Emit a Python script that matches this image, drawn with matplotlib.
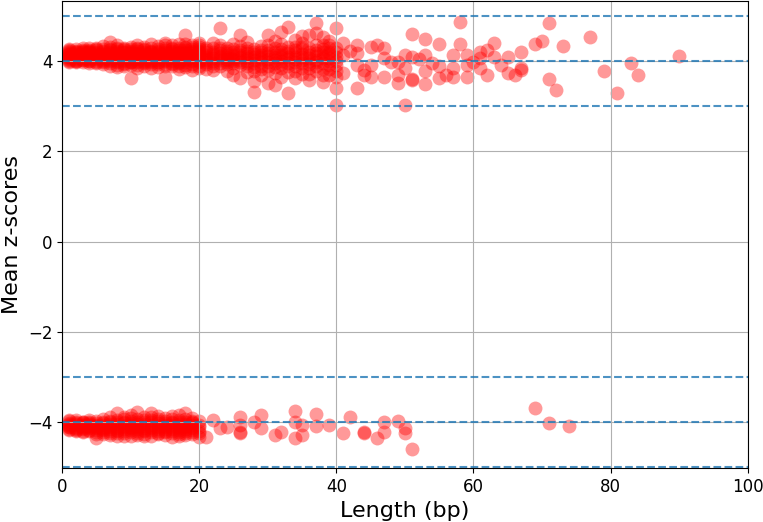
import numpy as np
import matplotlib
matplotlib.use('Agg')
import matplotlib.pyplot as plt

# Upper cluster (positive mean z-scores), dense part: lengths 1..20
upper_dense_len = [
    1, 1, 1, 1, 1, 1, 1, 1, 1, 1, 1, 1, 1, 1, 1, 1,
    2, 2, 2, 2, 2, 2, 2, 2, 2, 2, 2, 2, 2, 2, 2, 2,
    3, 3, 3, 3, 3, 3, 3, 3, 3, 3, 3, 3, 3, 3, 3, 3,
    4, 4, 4, 4, 4, 4, 4, 4, 4, 4, 4, 4, 4, 4, 4, 4,
    5, 5, 5, 5, 5, 5, 5, 5, 5, 5, 5, 5, 5, 5, 5, 5,
    6, 6, 6, 6, 6, 6, 6, 6, 6, 6, 6, 6, 6, 6, 6, 6,
    7, 7, 7, 7, 7, 7, 7, 7, 7, 7, 7, 7, 7, 7, 7, 7,
    8, 8, 8, 8, 8, 8, 8, 8, 8, 8, 8, 8, 8, 8, 8, 8,
    9, 9, 9, 9, 9, 9, 9, 9, 9, 9, 9, 9, 9, 9, 9, 9,
    10, 10, 10, 10, 10, 10, 10, 10, 10, 10, 10, 10, 10, 10, 10, 10,
    11, 11, 11, 11, 11, 11, 11, 11, 11, 11, 11, 11, 11, 11, 11, 11,
    12, 12, 12, 12, 12, 12, 12, 12, 12, 12, 12, 12, 12, 12, 12, 12,
    13, 13, 13, 13, 13, 13, 13, 13, 13, 13, 13, 13, 13, 13, 13, 13,
    14, 14, 14, 14, 14, 14, 14, 14, 14, 14, 14, 14, 14, 14, 14, 14,
    15, 15, 15, 15, 15, 15, 15, 15, 15, 15, 15, 15, 15, 15, 15, 15,
    16, 16, 16, 16, 16, 16, 16, 16, 16, 16, 16, 16, 16, 16, 16, 16,
    17, 17, 17, 17, 17, 17, 17, 17, 17, 17, 17, 17, 17, 17, 17, 17,
    18, 18, 18, 18, 18, 18, 18, 18, 18, 18, 18, 18, 18, 18, 18, 18,
    19, 19, 19, 19, 19, 19, 19, 19, 19, 19, 19, 19, 19, 19, 19, 19,
    20, 20, 20, 20, 20, 20, 20, 20, 20, 20, 20, 20, 20, 20, 20, 20,
]
upper_dense_z = [
    4.02, 4.08, 4.15, 4.20, 4.11, 4.05, 4.18, 4.27, 4.00, 4.13, 4.22, 4.07, 4.16, 3.99, 4.10, 4.25,
    4.00, 4.06, 4.12, 4.19, 4.23, 4.09, 4.15, 3.97, 4.03, 4.17, 4.26, 4.11, 4.05, 4.21, 4.14, 4.01,
    4.03, 4.10, 4.16, 4.21, 4.07, 4.13, 4.25, 3.98, 4.02, 4.19, 4.09, 4.15, 4.23, 4.05, 4.12, 4.28,
    4.01, 4.09, 4.14, 4.22, 4.05, 4.17, 4.28, 3.95, 4.03, 4.11, 4.19, 4.25, 4.07, 4.13, 4.00, 4.21,
    3.96, 4.04, 4.11, 4.18, 4.24, 4.08, 4.30, 4.14, 4.01, 4.06, 4.16, 4.21, 3.99, 4.12, 4.27, 4.09,
    3.93, 4.02, 4.10, 4.16, 4.22, 4.06, 4.33, 4.13, 3.98, 4.04, 4.19, 4.26, 4.08, 4.15, 4.01, 4.11,
    3.90, 4.00, 4.07, 4.15, 4.21, 4.43, 4.27, 4.11, 3.96, 4.04, 4.18, 4.24, 4.09, 4.13, 4.02, 4.31,
    3.92, 4.03, 4.12, 4.19, 4.26, 4.08, 4.35, 3.86, 3.98, 4.06, 4.15, 4.22, 4.01, 4.10, 4.29, 4.17,
    3.95, 4.05, 4.14, 4.20, 4.30, 4.10, 3.88, 4.24, 4.01, 4.08, 4.17, 4.27, 3.93, 4.12, 4.03, 4.21,
    3.62, 3.97, 4.06, 4.13, 4.22, 4.32, 4.01, 4.17, 3.92, 4.09, 4.19, 4.26, 4.04, 4.11, 3.99, 4.15,
    3.91, 4.04, 4.11, 4.18, 4.27, 4.36, 4.08, 3.85, 3.97, 4.14, 4.22, 4.01, 4.06, 4.16, 4.30, 4.10,
    3.89, 4.00, 4.09, 4.16, 4.24, 4.31, 4.05, 4.20, 3.95, 4.12, 4.27, 4.03, 4.14, 4.07, 4.18, 3.98,
    3.94, 4.03, 4.12, 4.19, 4.28, 4.38, 4.07, 3.84, 3.99, 4.10, 4.23, 4.15, 4.05, 4.21, 4.01, 4.13,
    3.87, 3.99, 4.08, 4.15, 4.23, 4.33, 4.11, 4.02, 3.93, 4.05, 4.19, 4.27, 4.13, 4.09, 3.97, 4.17,
    3.65, 3.93, 4.05, 4.13, 4.21, 4.30, 4.40, 4.09, 3.90, 4.00, 4.17, 4.25, 4.11, 4.03, 4.15, 4.35,
    3.88, 4.01, 4.10, 4.18, 4.26, 4.35, 4.06, 3.96, 3.93, 4.13, 4.22, 4.03, 4.15, 4.08, 4.29, 4.19,
    3.90, 4.04, 4.12, 4.20, 4.29, 4.37, 4.08, 3.83, 3.96, 4.15, 4.24, 4.01, 4.10, 4.18, 3.99, 4.06,
    3.86, 3.98, 4.07, 4.16, 4.24, 4.58, 4.32, 4.11, 3.92, 4.03, 4.20, 4.28, 4.13, 4.05, 4.18, 4.38,
    3.89, 4.02, 4.10, 4.19, 4.27, 4.36, 4.05, 3.80, 3.94, 4.14, 4.22, 4.00, 4.08, 4.31, 4.17, 4.12,
    3.85, 3.97, 4.08, 4.15, 4.23, 4.31, 4.41, 4.03, 3.90, 4.11, 4.19, 4.27, 4.05, 4.00, 4.14, 4.35,
]

# Upper cluster, lengths 21..40
upper_mid_len = [
    21, 21, 21, 21, 21, 21, 21, 21, 21, 21,
    22, 22, 22, 22, 22, 22, 22, 22, 22, 22,
    23, 23, 23, 23, 23, 23, 23, 23, 23, 23,
    24, 24, 24, 24, 24, 24, 24, 24, 24, 24,
    25, 25, 25, 25, 25, 25, 25, 25, 25, 25,
    26, 26, 26, 26, 26, 26, 26, 26, 26, 26,
    27, 27, 27, 27, 27, 27, 27, 27, 27, 27,
    28, 28, 28, 28, 28, 28, 28, 28, 28, 28,
    29, 29, 29, 29, 29, 29, 29, 29, 29, 29,
    30, 30, 30, 30, 30, 30, 30, 30, 30, 30,
    31, 31, 31, 31, 31, 31, 31, 31, 31, 31,
    32, 32, 32, 32, 32, 32, 32, 32, 32, 32,
    33, 33, 33, 33, 33, 33, 33, 33, 33, 33,
    34, 34, 34, 34, 34, 34, 34, 34, 34, 34,
    35, 35, 35, 35, 35, 35, 35, 35, 35, 35,
    36, 36, 36, 36, 36, 36, 36, 36, 36, 36,
    37, 37, 37, 37, 37, 37, 37, 37, 37, 37,
    38, 38, 38, 38, 38, 38, 38, 38, 38, 38,
    39, 39, 39, 39, 39, 39, 39, 39, 39, 39,
    40, 40, 40, 40, 40, 40, 40, 40, 40, 40,
]
upper_mid_z = [
    3.82, 3.98, 4.10, 4.19, 4.30, 4.05, 3.94, 4.14, 4.24, 4.02,
    3.80, 3.95, 4.07, 4.16, 4.28, 4.40, 4.01, 4.11, 4.21, 3.90,
    3.88, 4.02, 4.12, 4.25, 4.73, 4.35, 3.96, 4.07, 4.18, 4.30,
    3.78, 3.93, 4.05, 4.18, 4.30, 4.10, 3.99, 4.14, 4.23, 4.02,
    3.85, 4.00, 4.14, 4.27, 4.38, 3.70, 3.95, 4.08, 4.20, 4.04,
    3.62, 3.92, 4.08, 4.20, 4.58, 4.33, 3.99, 4.13, 4.25, 4.03,
    3.75, 3.96, 4.06, 4.17, 4.29, 4.42, 3.89, 4.11, 4.22, 4.01,
    3.32, 3.55, 3.87, 4.03, 4.15, 4.26, 3.95, 4.09, 4.20, 3.78,
    3.70, 3.90, 4.05, 4.19, 4.34, 4.10, 3.98, 4.13, 4.25, 3.83,
    3.51, 3.80, 3.98, 4.12, 4.25, 4.58, 4.05, 4.18, 3.90, 4.35,
    3.47, 3.86, 4.02, 4.14, 4.30, 4.45, 3.95, 4.08, 4.21, 3.74,
    3.65, 3.93, 4.08, 4.21, 4.65, 4.37, 4.01, 4.14, 3.85, 4.27,
    3.30, 3.75, 3.96, 4.10, 4.23, 4.76, 4.04, 4.17, 4.32, 3.88,
    3.62, 3.88, 4.04, 4.17, 4.32, 4.47, 3.97, 4.10, 4.24, 3.78,
    3.72, 3.95, 4.09, 4.26, 4.40, 4.55, 4.02, 4.16, 3.85, 4.31,
    3.58, 3.85, 4.00, 4.13, 4.58, 4.30, 3.93, 4.07, 4.21, 3.72,
    3.78, 3.97, 4.11, 4.24, 4.85, 4.62, 4.03, 4.18, 4.36, 3.88,
    3.54, 3.82, 4.06, 4.19, 4.54, 4.35, 3.95, 4.12, 4.26, 3.70,
    3.68, 3.92, 4.07, 4.28, 4.45, 4.15, 4.00, 4.21, 3.82, 4.35,
    3.03, 3.40, 3.79, 4.00, 4.20, 4.73, 3.92, 4.10, 4.30, 3.65,
]

# Upper cluster, sparse long fragments
upper_tail_len = [41, 41, 41, 42, 43, 43, 43, 43, 44, 44, 45, 45, 45, 46, 47, 47,
                  47, 48, 49, 49, 49, 50, 50, 50, 51, 51, 51, 51, 52, 53, 53, 53,
                  53, 54, 55, 55, 55, 56, 57, 57, 57, 58, 58, 59, 59, 59, 60, 61,
                  61, 61, 62, 62, 63, 63, 64, 65, 65, 66, 67, 67, 67, 69, 70, 71,
                  71, 72, 73, 77, 79, 81, 83, 84, 90]
upper_tail_z = [4.39, 3.73, 4.13, 4.22, 3.40, 4.17, 4.36, 3.91, 3.80, 3.69, 4.32, 3.91,
                3.65, 4.36, 3.65, 4.28, 4.06, 3.99, 3.51, 3.69, 3.99, 4.13, 3.84, 3.03,
                4.59, 3.58, 3.60, 4.10, 4.05, 3.49, 3.77, 4.48, 4.13, 3.95, 4.37, 3.62,
                3.88, 3.69, 4.13, 3.65, 3.85, 4.86, 4.37, 4.13, 3.64, 3.91, 3.97, 4.21,
                4.06, 3.85, 4.25, 3.69, 4.41, 4.10, 3.91, 4.10, 3.73, 3.69, 4.19, 3.84,
                3.80, 4.37, 4.45, 4.85, 3.60, 3.36, 4.33, 4.53, 3.77, 3.30, 3.96, 3.69,
                4.11]

# Lower cluster (negative mean z-scores), lengths 1..20
lower_dense_len = [
    1, 1, 1, 1, 1, 1, 1, 1, 1, 1,
    2, 2, 2, 2, 2, 2, 2, 2, 2, 2,
    3, 3, 3, 3, 3, 3, 3, 3, 3, 3,
    4, 4, 4, 4, 4, 4, 4, 4, 4, 4,
    5, 5, 5, 5, 5, 5, 5, 5, 5, 5,
    6, 6, 6, 6, 6, 6, 6, 6, 6, 6,
    7, 7, 7, 7, 7, 7, 7, 7, 7, 7,
    8, 8, 8, 8, 8, 8, 8, 8, 8, 8,
    9, 9, 9, 9, 9, 9, 9, 9, 9, 9,
    10, 10, 10, 10, 10, 10, 10, 10, 10, 10,
    11, 11, 11, 11, 11, 11, 11, 11, 11, 11,
    12, 12, 12, 12, 12, 12, 12, 12, 12, 12,
    13, 13, 13, 13, 13, 13, 13, 13, 13, 13,
    14, 14, 14, 14, 14, 14, 14, 14, 14, 14,
    15, 15, 15, 15, 15, 15, 15, 15, 15, 15,
    16, 16, 16, 16, 16, 16, 16, 16, 16, 16,
    17, 17, 17, 17, 17, 17, 17, 17, 17, 17,
    18, 18, 18, 18, 18, 18, 18, 18, 18, 18,
    19, 19, 19, 19, 19, 19, 19, 19, 19, 19,
    20, 20, 20, 20, 20, 20,
]
lower_dense_z = [
    -3.98, -4.05, -4.12, -4.18, -4.02, -4.09, -4.15, -4.07, -3.96, -4.11,
    -3.96, -4.03, -4.10, -4.16, -4.21, -4.07, -4.00, -4.13, -4.05, -4.18,
    -3.99, -4.06, -4.13, -4.19, -4.01, -4.23, -4.09, -4.15, -4.03, -4.11,
    -3.95, -4.04, -4.11, -4.17, -4.08, -4.00, -4.14, -4.06, -4.20, -4.02,
    -3.97, -4.06, -4.14, -4.22, -4.36, -4.02, -4.10, -4.17, -4.08, -4.26,
    -3.94, -4.03, -4.10, -4.18, -4.27, -4.07, -4.13, -4.00, -4.22, -4.15,
    -3.90, -4.01, -4.09, -4.16, -4.24, -4.05, -4.12, -3.97, -4.20, -4.28,
    -3.81, -3.96, -4.05, -4.13, -4.21, -4.30, -4.09, -4.00, -4.17, -4.25,
    -3.88, -3.99, -4.08, -4.15, -4.25, -4.03, -4.12, -4.19, -3.94, -4.30,
    -3.85, -3.97, -4.06, -4.14, -4.22, -4.31, -4.10, -4.02, -4.18, -3.92,
    -3.77, -3.93, -4.04, -4.12, -4.20, -4.28, -4.08, -3.99, -4.16, -4.24,
    -3.89, -4.00, -4.09, -4.17, -4.26, -4.05, -4.13, -3.95, -4.21, -4.30,
    -3.80, -3.95, -4.06, -4.14, -4.23, -4.32, -4.10, -4.01, -4.18, -3.90,
    -3.86, -3.98, -4.08, -4.16, -4.27, -4.03, -4.12, -4.20, -3.93, -4.24,
    -3.91, -4.02, -4.11, -4.19, -4.29, -4.06, -4.15, -3.97, -4.23, -4.09,
    -3.87, -3.99, -4.07, -4.15, -4.25, -4.33, -4.11, -4.03, -4.19, -3.94,
    -3.84, -3.96, -4.05, -4.13, -4.22, -4.30, -4.09, -4.00, -4.17, -4.26,
    -3.80, -3.94, -4.04, -4.12, -4.21, -4.28, -4.08, -3.99, -4.16, -4.24,
    -3.92, -4.01, -4.10, -4.18, -4.26, -4.06, -4.14, -3.97, -4.22, -4.03,
    -3.97, -4.07, -4.20, -4.33, -4.25, -4.12,
]

lower_tail_len = [21, 22, 23, 24, 26, 26, 26, 26, 28, 29, 29, 31, 32, 34, 34, 34,
                  35, 35, 37, 37, 39, 41, 42, 44, 44, 46, 47, 47, 49, 50, 50, 51,
                  69, 71, 74]
lower_tail_z = [-4.33, -3.96, -4.14, -4.11, -3.88, -4.07, -4.25, -4.22, -3.99, -3.85,
                -4.14, -4.29, -4.22, -3.75, -3.99, -4.36, -4.07, -4.29, -3.82, -4.09,
                -4.07, -4.25, -3.88, -4.25, -4.22, -4.36, -3.99, -4.22, -3.97, -4.14,
                -4.25, -4.60, -3.69, -4.02, -4.08]

thresholds = [5, 4, 3, -3, -4, -5]

lengths = upper_dense_len + upper_mid_len + upper_tail_len + lower_dense_len + lower_tail_len
zscores = upper_dense_z + upper_mid_z + upper_tail_z + lower_dense_z + lower_tail_z

fig = plt.figure(figsize=(7.63, 5.22), dpi=100)
ax = fig.add_axes([0.0813, 0.1034, 0.8987, 0.8946])

ax.scatter(lengths, zscores, s=100, color='red', alpha=0.4, linewidths=0)
for t in thresholds:
    ax.axhline(t, linestyle='--', color='C0', linewidth=1.5, alpha=0.8)

ax.grid(True)
ax.set_xlim(0, 100)
ax.set_ylim(-5.02, 5.33)
ax.set_xlabel('Length (bp)', fontsize=16)
ax.set_ylabel('Mean z-scores', fontsize=16)
ax.tick_params(labelsize=12)

plt.savefig('out.png', dpi=100)
